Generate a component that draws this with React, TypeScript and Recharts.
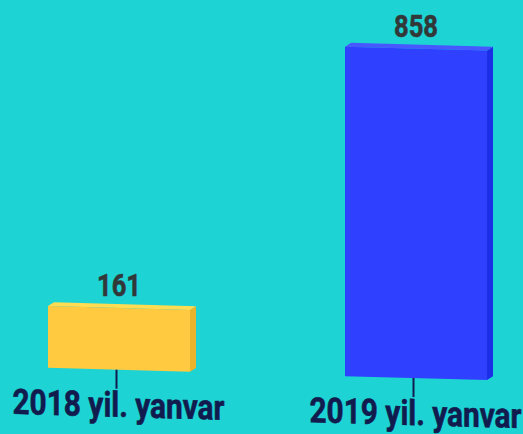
import React from "react";
import { BarChart, Bar, XAxis, YAxis, LabelList } from "recharts";

const categories = ["2018 yil. yanvar", "2019 yil. yanvar"];
const values = [161, 858];
const frontColors = ["#FFCA40", "#2F40FF"];
const topColors = ["#FFDC52", "#4858FF"];
const sideColors = ["#E9B42C", "#1A2FE6"];

const data = categories.map((name, i) => ({ name, value: values[i] }));

const BG = "#1ED3D4";
const NAVY = "#111B4E";
const SKEW = 0.028; // the whole picture leans down to the right
const DEPTH_X = 6;
const DEPTH_Y = 4;

// front face plus a thin top and side face, for the 3d look
const PrismBar = (props: any) => {
  const { x, y, width, height, index } = props;
  const r = x + width;
  const b = y + height;
  return (
    <g>
      <polygon
        points={`${r},${y} ${r + DEPTH_X},${y - DEPTH_Y} ${r + DEPTH_X},${b - DEPTH_Y} ${r},${b}`}
        fill={sideColors[index]}
      />
      <polygon
        points={`${x},${y} ${x + DEPTH_X},${y - DEPTH_Y} ${r + DEPTH_X},${y - DEPTH_Y} ${r},${y}`}
        fill={topColors[index]}
      />
      <rect x={x} y={y} width={width} height={height} fill={frontColors[index]} />
    </g>
  );
};

const ValueLabel = (props: any) => {
  const { x, y, width, value } = props;
  const cx = x + width / 2;
  return (
    <text
      x={cx}
      y={y - 12}
      textAnchor="middle"
      fontFamily="Roboto"
      fontWeight={700}
      fontSize={31}
      fill="#323838"
      stroke="#323838"
      strokeWidth={0.6}
      textLength={44}
      lengthAdjust="spacingAndGlyphs"
      transform={`matrix(1,${-SKEW},0,1,0,${SKEW * cx})`}
    >
      {value}
    </text>
  );
};

const CategoryTick = (props: any) => {
  const { x, y, payload } = props;
  return (
    <g>
      <line x1={x - 2} y1={y} x2={x - 2} y2={y + 19} stroke={NAVY} strokeWidth={2} />
      <text
        x={x}
        y={y + 47}
        textAnchor="middle"
        fontFamily="Roboto"
        fontWeight={700}
        fontSize={35}
        fill={NAVY}
        stroke={NAVY}
        strokeWidth={0.6}
        textLength={212}
        lengthAdjust="spacingAndGlyphs"
      >
        {payload.value}
      </text>
    </g>
  );
};

export default function App() {
  return (
    <div
      style={{
        position: "fixed",
        left: 0,
        top: 0,
        width: 523,
        height: 434,
        overflow: "hidden",
        background: BG,
      }}
    >
      <div
        style={{
          marginLeft: -30,
          width: 600,
          height: 434,
          transform: "skewY(1.6deg)",
          transformOrigin: "30px 0px",
        }}
      >
        <BarChart
          width={600}
          height={434}
          data={data}
          margin={{ top: 37, right: 6, left: 0, bottom: 0 }}
        >
          <XAxis
            dataKey="name"
            height={67.5}
            axisLine={false}
            tickLine={false}
            tickSize={0}
            tickMargin={0}
            interval={0}
            tick={<CategoryTick />}
          />
          <YAxis hide domain={[0, 858]} />
          <Bar
            dataKey="value"
            barSize={142}
            shape={<PrismBar />}
            isAnimationActive={false}
          >
            <LabelList dataKey="value" content={<ValueLabel />} />
          </Bar>
        </BarChart>
      </div>
    </div>
  );
}
